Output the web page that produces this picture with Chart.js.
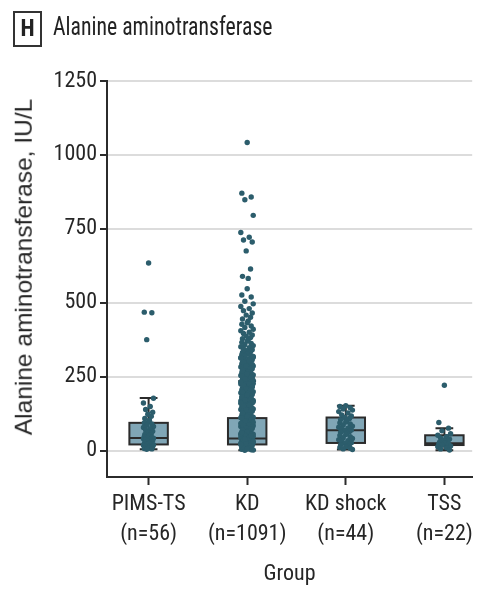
<!DOCTYPE html>
<html>
<head>
<meta charset="utf-8">
<script src="https://cdn.jsdelivr.net/npm/chart.js@4.4.1/dist/chart.umd.min.js"></script>
<style>
  html, body { margin: 0; padding: 0; background: #fff; }
  #wrap { position: relative; width: 478px; height: 592px; }
  #panel {
    position: absolute; left: 13px; top: 11px; width: 25px; height: 32px;
    border: 2px solid #333; color: #222; text-align: center;
    font: bold 23px 'Roboto Condensed', sans-serif;
    line-height: 32px;
  }
  #heading {
    position: absolute; left: 53px; top: 12px; color: #222; white-space: nowrap;
    font: 25px 'Roboto Condensed', sans-serif; line-height: 30px;
    transform: scaleX(0.87); transform-origin: left top;
  }
  #yTitle {
    position: absolute; left: 24px; top: 267px; color: #262626; white-space: nowrap;
    font: 24.5px 'Liberation Sans', Arial, sans-serif; line-height: 1;
    transform: translate(-50%, -50%) rotate(-90deg);
  }
  #chartBox { position: absolute; left: 0; top: 0; width: 478px; height: 592px; }
</style>
</head>
<body>
<div id="wrap">
  <div id="chartBox"><canvas id="altChart"></canvas></div>
  <div id="panel">H</div>
  <div id="heading">Alanine aminotransferase</div>
  <div id="yTitle">Alanine aminotransferase, IU/L</div>
</div>
<script>
// Groups and their sizes
const GROUPS = ['PIMS-TS', 'KD', 'KD shock', 'TSS'];
const GROUP_N = [56, 1091, 44, 22];
const Y_TICKS = [0, 250, 500, 750, 1000, 1250];

// Box summaries (IU/L)
const Q1 = [22, 22, 27, 20];
const MEDIAN = [44, 42, 70, 26];
const Q3 = [95, 111, 113, 53];
const WHISKER_LO = [6, 2, 5, 2];
const WHISKER_HI = [179, 236, 153, 77];

// Individual patients (IU/L)
const PIMS_ALT = [635, 469, 467, 376, 178, 162, 150, 140, 131, 124, 117, 110, 104, 99, 95, 91, 87, 83, 79, 75,
  71, 67, 63, 59, 56, 53, 50, 48, 46, 45, 43, 41, 39, 37, 35, 33, 31, 29, 27, 25,
  24, 23, 22, 21, 19, 18, 16, 15, 13, 12, 11, 10, 9, 8, 7, 6];
const KD_ALT = [1042, 871, 858, 849, 796, 738, 722, 713, 706, 676, 615, 590, 583, 548, 527, 520, 506, 497, 488, 481,
  474, 466, 459, 452, 446, 439, 433, 428, 422, 417, 411, 406, 401, 397, 392, 388, 383, 379, 375, 371,
  367, 363, 359, 356, 352, 349, 345, 342, 339, 336, 333, 330, 327, 325, 322, 320, 317, 315, 312, 310,
  308, 305, 303, 301, 298, 296, 294, 291, 289, 287, 284, 282, 280, 278, 275, 273, 271, 269, 266, 264,
  262, 260, 257, 255, 253, 251, 248, 246, 244, 242, 239, 237, 235, 233, 231, 228, 226, 224, 222, 219,
  217, 215, 213, 211, 208, 206, 204, 202, 200, 197, 195, 193, 191, 189, 186, 184, 182, 180, 178, 175,
  173, 171, 169, 167, 164, 162, 160, 158, 156, 153, 151, 149, 147, 145, 142, 140, 138, 136, 134, 131,
  129, 127, 125, 123, 120, 118, 116, 114, 112, 109, 107, 105, 103, 101, 98, 96, 94, 92, 90, 87,
  85, 83, 81, 79, 76, 74, 72, 70, 68, 65, 63, 61, 59, 57, 54, 52, 50, 48, 46, 43,
  41, 39, 37, 35, 32, 30, 28, 26, 24, 21, 19, 17, 15, 13, 10, 8, 6, 4, 2,
  319, 314, 306, 299, 292, 286, 279, 272, 267, 261, 254, 249, 243, 238, 232, 227, 221, 216, 210, 205,
  199, 194, 188, 183, 177, 172, 166, 161, 155, 150, 144, 139, 133, 128, 122, 117, 111, 106, 100, 97,
  93, 89, 86, 82, 78, 75, 71, 67, 64, 60, 56, 53, 49, 45, 42, 38, 34, 31, 27, 23,
  20, 16, 12, 9, 5, 3, 58, 44, 36, 29, 25, 18, 14, 11, 7, 62, 51, 40, 33, 22];
const KD_SHOCK_ALT = [153, 150, 146, 142, 138, 133, 128, 122, 118, 113, 110, 106, 102, 98, 95, 91, 88, 84, 80, 77,
  74, 71, 69, 66, 63, 60, 56, 52, 48, 45, 42, 38, 35, 31, 28, 26, 23, 20, 17, 14, 12, 9, 7, 5];
const TSS_ALT = [222, 96, 77, 68, 58, 53, 48, 44, 40, 36, 33, 30, 28, 26, 24, 22, 20, 17, 14, 11, 7, 3];

const GROUP_VALUES = [PIMS_ALT, KD_ALT, KD_SHOCK_ALT, TSS_ALT];

// horizontal scatter pattern for the dots, and half-width per group (x units)
const JITTER = [0, -0.8, 0.6, -0.35, 0.9, -0.95, 0.3, -0.55, 0.75, -0.15, 0.5, -0.7, 0.15];
const SPREAD = [0.055, 0.068, 0.075, 0.07];
const BOX_WIDTH = 0.39;
const CAP_WIDTH = 0.18;

const TEXT = '#262626';
const FONT_NARROW = "'Roboto Condensed', 'DejaVu Sans Condensed', sans-serif";

const dotData = GROUP_VALUES.map((vals, g) =>
  vals.map((v, i) => ({ x: g + 1 + JITTER[i % JITTER.length] * SPREAD[g], y: v }))
);

// boxes and whiskers go under the dots
const boxPlugin = {
  id: 'boxes',
  beforeDatasetsDraw(chart) {
    const { ctx, scales: { x, y } } = chart;
    ctx.save();
    ctx.strokeStyle = '#2b2b2b';
    ctx.lineWidth = 2;
    GROUPS.forEach((g, i) => {
      const cx = x.getPixelForValue(i + 1);
      const hw = x.getPixelForValue(i + 1 + BOX_WIDTH / 2) - cx;
      const cw = x.getPixelForValue(i + 1 + CAP_WIDTH / 2) - cx;
      const yq1 = y.getPixelForValue(Q1[i]);
      const yq3 = y.getPixelForValue(Q3[i]);
      const ymed = y.getPixelForValue(MEDIAN[i]);
      const ylo = y.getPixelForValue(WHISKER_LO[i]);
      const yhi = y.getPixelForValue(WHISKER_HI[i]);

      ctx.beginPath();
      ctx.moveTo(cx, yq3); ctx.lineTo(cx, yhi);
      ctx.moveTo(cx - cw, yhi); ctx.lineTo(cx + cw, yhi);
      ctx.moveTo(cx, yq1); ctx.lineTo(cx, ylo);
      ctx.moveTo(cx - cw, ylo); ctx.lineTo(cx + cw, ylo);
      ctx.stroke();

      ctx.fillStyle = '#80a6b6';
      ctx.fillRect(cx - hw, yq3, hw * 2, yq1 - yq3);
      ctx.strokeRect(cx - hw, yq3, hw * 2, yq1 - yq3);

      ctx.beginPath();
      ctx.moveTo(cx - hw, ymed); ctx.lineTo(cx + hw, ymed);
      ctx.stroke();
    });
    ctx.restore();
  }
};

new Chart(document.getElementById('altChart'), {
  type: 'scatter',
  data: {
    datasets: dotData.map((pts, g) => ({
      label: GROUPS[g],
      data: pts,
      backgroundColor: '#2c5d6c',
      borderColor: '#2c5d6c',
      borderWidth: 0,
      pointRadius: 2.7,
      pointHoverRadius: 2.7
    }))
  },
  options: {
    responsive: true,
    maintainAspectRatio: false,
    animation: false,
    layout: { padding: { top: 81, right: 0, left: 0, bottom: 0 } },
    plugins: {
      legend: { display: false },
      tooltip: { enabled: false }
    },
    scales: {
      x: {
        type: 'linear',
        min: 0.578,
        max: 4.282,
        afterFit: s => { s.height = 115; },
        afterBuildTicks: s => { s.ticks = GROUPS.map((g, i) => ({ value: i + 1 })); },
        border: { color: '#2b2b2b', width: 2 },
        grid: { drawOnChartArea: false, tickLength: 8, tickColor: '#2b2b2b', tickWidth: 2 },
        ticks: {
          color: TEXT,
          padding: 5,
          maxRotation: 0,
          font: { family: FONT_NARROW, size: 22, lineHeight: 1.35 },
          callback: v => [GROUPS[v - 1], '(n=' + GROUP_N[v - 1] + ')']
        },
        title: {
          display: true,
          text: 'Group',
          color: TEXT,
          font: { family: FONT_NARROW, size: 22 },
          padding: { top: 0, bottom: 4 }
        }
      },
      y: {
        min: -88,
        max: 1250,
        afterFit: s => { s.width = 107; },
        afterBuildTicks: s => { s.ticks = Y_TICKS.map(v => ({ value: v })); },
        border: { color: '#2b2b2b', width: 2 },
        grid: { color: '#dcdcdc', lineWidth: 2, tickLength: 7, tickColor: '#2b2b2b', tickWidth: 2 },
        ticks: {
          color: TEXT,
          padding: 3,
          font: { family: FONT_NARROW, size: 22 },
          callback: v => String(v)
        }
      }
    }
  },
  plugins: [boxPlugin]
});
</script>
</body>
</html>
